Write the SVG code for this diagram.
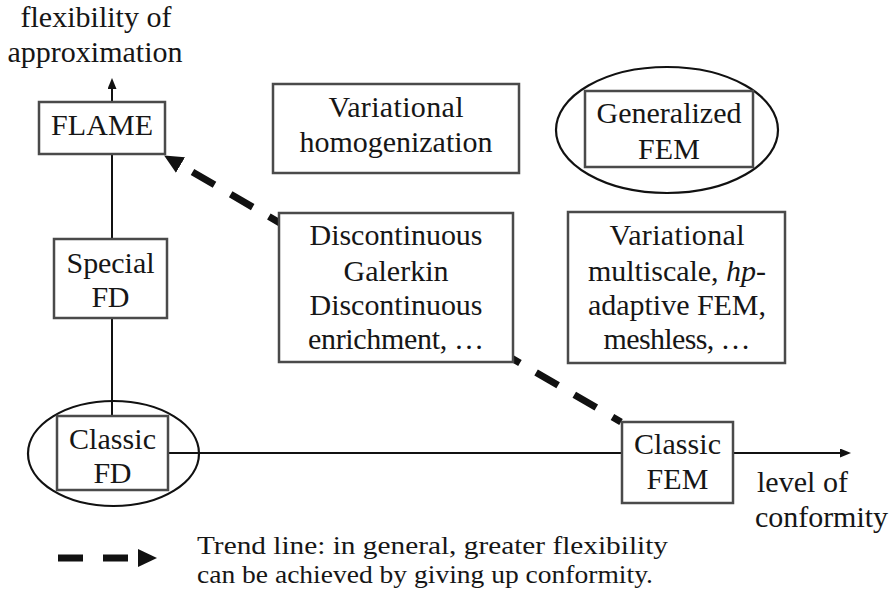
<svg xmlns="http://www.w3.org/2000/svg" width="891" height="594" viewBox="0 0 891 594">
  <defs>
    <marker id="axisHead" markerUnits="userSpaceOnUse" markerWidth="11" markerHeight="9" refX="1" refY="4.5" orient="auto" viewBox="0 0 11 9">
      <path d="M0,0 L11,4.5 L0,9 z" fill="#111111"/>
    </marker>
    <marker id="trendHead" markerUnits="userSpaceOnUse" markerWidth="19" markerHeight="18" refX="0" refY="9" orient="auto" viewBox="0 0 19 18">
      <path d="M0,0 L19,9 L0,18 z" fill="#111111"/>
    </marker>
  </defs>

  <!-- axes and trend line -->
  <g id="connectors" fill="none" stroke="#111111">
    <line x1="112" y1="416" x2="112" y2="88" stroke-width="2" marker-end="url(#axisHead)"/>
    <line x1="168" y1="453" x2="841" y2="453" stroke-width="2" marker-end="url(#axisHead)"/>
    <line x1="621" y1="422" x2="180.5" y2="165" stroke-width="7" stroke-dasharray="25.5 18.7" stroke-dashoffset="15.6" marker-end="url(#trendHead)"/>
  </g>

  <!-- axis captions -->
  <g id="axis-labels" font-family="Liberation Serif" font-size="30" fill="#161616">
    <text x="96" y="27" font-family="Liberation Serif" font-size="30" text-anchor="middle" textLength="151" lengthAdjust="spacing">flexibility of</text>
    <text x="95" y="62" font-family="Liberation Serif" font-size="30" text-anchor="middle" textLength="175" lengthAdjust="spacing">approximation</text>
    <text x="757" y="492" font-family="Liberation Serif" font-size="30" textLength="91" lengthAdjust="spacing">level of</text>
    <text x="755" y="527" font-family="Liberation Serif" font-size="30" textLength="133" lengthAdjust="spacing">conformity</text>
  </g>

  <g id="flame" font-family="Liberation Serif" font-size="30" fill="#161616" text-anchor="middle">
    <rect x="39" y="102" width="126" height="52" fill="#ffffff" stroke="#4a4a4a" stroke-width="2.5"/>
    <text x="102" y="135" font-family="Liberation Serif" font-size="30" textLength="102" lengthAdjust="spacing">FLAME</text>
  </g>

  <g id="special-fd" font-family="Liberation Serif" font-size="30" fill="#161616" text-anchor="middle">
    <rect x="54" y="239" width="113" height="79" fill="#ffffff" stroke="#4a4a4a" stroke-width="2.5"/>
    <text x="110.5" y="273" font-family="Liberation Serif" font-size="30" textLength="88" lengthAdjust="spacing">Special</text>
    <text x="110.5" y="307" font-family="Liberation Serif" font-size="30" textLength="38" lengthAdjust="spacing">FD</text>
  </g>

  <g id="classic-fd" font-family="Liberation Serif" font-size="30" fill="#161616" text-anchor="middle">
    <ellipse cx="113.5" cy="453.5" rx="85.5" ry="52.5" fill="#ffffff" stroke="#111111" stroke-width="2.2"/>
    <line x1="112" y1="401" x2="112" y2="416" stroke="#111111" stroke-width="2"/>
    <line x1="168" y1="453" x2="199" y2="453" stroke="#111111" stroke-width="2"/>
    <rect x="57" y="416" width="111" height="74" fill="#ffffff" stroke="#4a4a4a" stroke-width="2.5"/>
    <text x="112.5" y="449" font-family="Liberation Serif" font-size="30" textLength="87" lengthAdjust="spacing">Classic</text>
    <text x="112.5" y="483" font-family="Liberation Serif" font-size="30" textLength="38" lengthAdjust="spacing">FD</text>
  </g>

  <g id="variational-homogenization" font-family="Liberation Serif" font-size="30" fill="#161616" text-anchor="middle">
    <rect x="273" y="84" width="246" height="89" fill="#ffffff" stroke="#4a4a4a" stroke-width="2.5"/>
    <text x="396" y="117" font-family="Liberation Serif" font-size="30" textLength="135" lengthAdjust="spacing">Variational</text>
    <text x="396" y="152" font-family="Liberation Serif" font-size="30" textLength="193" lengthAdjust="spacing">homogenization</text>
  </g>

  <g id="generalized-fem" font-family="Liberation Serif" font-size="30" fill="#161616" text-anchor="middle">
    <ellipse cx="667" cy="130" rx="111" ry="63" fill="#ffffff" stroke="#111111" stroke-width="2.2"/>
    <rect x="585" y="91" width="168" height="76" fill="#ffffff" stroke="#4a4a4a" stroke-width="2.5"/>
    <text x="669" y="123" font-family="Liberation Serif" font-size="30" textLength="145" lengthAdjust="spacing">Generalized</text>
    <text x="669" y="159" font-family="Liberation Serif" font-size="30" textLength="62" lengthAdjust="spacing">FEM</text>
  </g>

  <g id="discontinuous" font-family="Liberation Serif" font-size="30" fill="#161616" text-anchor="middle">
    <rect x="279" y="213" width="234" height="149" fill="#ffffff" stroke="#4a4a4a" stroke-width="2.5"/>
    <text x="396" y="245" font-family="Liberation Serif" font-size="30" textLength="173" lengthAdjust="spacing">Discontinuous</text>
    <text x="396" y="281" font-family="Liberation Serif" font-size="30" textLength="105" lengthAdjust="spacing">Galerkin</text>
    <text x="396" y="315" font-family="Liberation Serif" font-size="30" textLength="173" lengthAdjust="spacing">Discontinuous</text>
    <text x="396" y="349" font-family="Liberation Serif" font-size="30" textLength="176" lengthAdjust="spacing">enrichment, …</text>
  </g>

  <g id="variational-multiscale" font-family="Liberation Serif" font-size="30" fill="#161616" text-anchor="middle">
    <rect x="568" y="212" width="217" height="151" fill="#ffffff" stroke="#4a4a4a" stroke-width="2.5"/>
    <text x="677" y="245" font-family="Liberation Serif" font-size="30" textLength="135" lengthAdjust="spacing">Variational</text>
    <text x="677" y="281" font-family="Liberation Serif" font-size="30" textLength="178" lengthAdjust="spacing">multiscale, <tspan font-style="italic">hp</tspan>-</text>
    <text x="677" y="315" font-family="Liberation Serif" font-size="30" textLength="178" lengthAdjust="spacing">adaptive FEM,</text>
    <text x="677" y="349" font-family="Liberation Serif" font-size="30" textLength="147" lengthAdjust="spacing">meshless, …</text>
  </g>

  <g id="classic-fem" font-family="Liberation Serif" font-size="30" fill="#161616" text-anchor="middle">
    <rect x="622" y="422" width="111" height="81" fill="#ffffff" stroke="#4a4a4a" stroke-width="2.5"/>
    <text x="677.5" y="454" font-family="Liberation Serif" font-size="30" textLength="87" lengthAdjust="spacing">Classic</text>
    <text x="677.5" y="489" font-family="Liberation Serif" font-size="30" textLength="62" lengthAdjust="spacing">FEM</text>
  </g>

  <!-- legend -->
  <g id="legend" font-family="Liberation Serif" font-size="26" fill="#161616">
    <line x1="58" y1="558" x2="138" y2="558" stroke="#111111" stroke-width="7" stroke-dasharray="25 20" marker-end="url(#trendHead)"/>
    <text x="197" y="554" font-family="Liberation Serif" textLength="471" lengthAdjust="spacingAndGlyphs">Trend line: in general, greater flexibility</text>
    <text x="197" y="583" font-family="Liberation Serif" textLength="456" lengthAdjust="spacingAndGlyphs">can be achieved by giving up conformity.</text>
  </g>
</svg>
